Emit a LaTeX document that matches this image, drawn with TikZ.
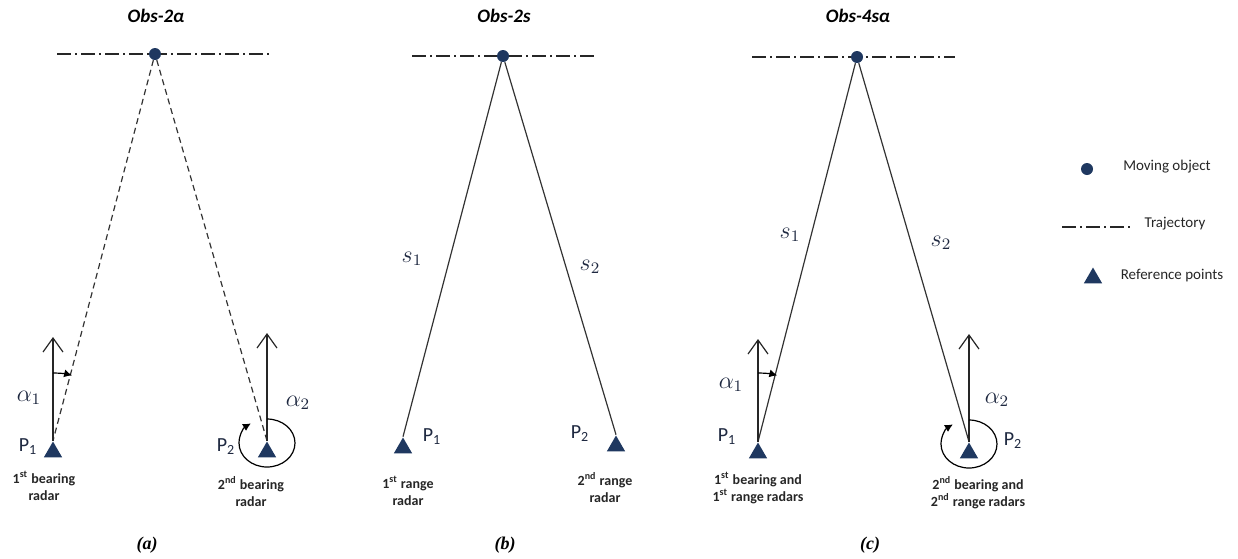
\documentclass[tikz,border=0pt]{standalone}
\usepackage{fontspec}
\setmainfont{Carlito}
\newfontfamily\capfont{Liberation Serif}
\usetikzlibrary{arrows.meta,shapes.geometric,calc}
\definecolor{objblue}{RGB}{31,56,96}
\definecolor{labcol}{RGB}{30,40,64}

\begin{document}
\begin{tikzpicture}[x=0.5pt,y=0.5pt,
    obj/.style={circle, fill=objblue, inner sep=0pt, minimum size=6pt},
    refpt/.style={regular polygon, regular polygon sides=3, fill=objblue, inner sep=0pt, minimum size=10.5pt},
    traj/.style={line width=0.55pt, black!85, dash pattern=on 7pt off 2pt on 1pt off 2pt},
    ray/.style={line width=0.6pt, black!80},
    uparr/.style={line width=0.6pt, black!85, -{Straight Barb[length=7pt,width=10pt]}},
    angarr/.style={line width=0.6pt, black, -{Latex[length=4pt,width=4pt]}},
    ttl/.style={font=\fontsize{9.5}{11}\selectfont\bfseries\itshape},
    lab/.style={font=\fontsize{10}{11}\selectfont, text=labcol},
    mlab/.style={font=\fontsize{12}{13}\selectfont, text=labcol},
    note/.style={font=\fontsize{7}{8.5}\selectfont\bfseries, align=center, text=black!85},
    leg/.style={font=\fontsize{7.5}{9}\selectfont, text=black!85},
    subcap/.style={font=\capfont\fontsize{9}{10}\selectfont\bfseries\itshape},
  ]
  \useasboundingbox (0,0) rectangle (1238,-558);

  % (a) two bearings
  \coordinate (trA1) at (57,-54);
  \coordinate (trA2) at (272,-54);
  \draw[traj] (trA1) -- (trA2);
  \node[ttl] (ttlA) at (156,-16) {Obs-2α};
  \node[obj] (objA) at (155,-54) {};
  \node[refpt] (p1A) at (53,-452) {};
  \node[refpt] (p2A) at (267,-452) {};
  \coordinate (upA1) at (53,-337);
  \coordinate (upA2) at (267,-333);
  \draw[ray, dash pattern=on 3pt off 2pt] (objA) -- (p1A.north);
  \draw[ray, dash pattern=on 3pt off 2pt] (objA) -- (p2A.north);
  \draw[uparr] (p1A.north) -- (upA1);
  \draw[uparr] (p2A.north) -- (upA2);
  \draw[angarr] ([yshift=39.5pt]p1A.center) arc[start angle=90, end angle=76, radius=39.5pt];
  \draw[angarr] ([yshift=16.5pt]p2A.center) arc[start angle=90, end angle=-235, x radius=14pt, y radius=12pt];
  \node[mlab] (a1A) at (29,-398) {$\alpha_1$};
  \node[mlab] (a2A) at (298,-403) {$\alpha_2$};
  \node[lab] (P1A) at (28,-447) {P\textsubscript{1}};
  \node[lab] (P2A) at (226,-447) {P\textsubscript{2}};
  \node[note] (txt1A) at (44,-486) {1\textsuperscript{st} bearing\\radar};
  \node[note] (txt2A) at (251,-492) {2\textsuperscript{nd} bearing\\radar};
  \node[subcap] (capA) at (147,-545) {(a)};

  % (b) two ranges
  \coordinate (trB1) at (412,-56);
  \coordinate (trB2) at (596,-56);
  \draw[traj] (trB1) -- (trB2);
  \node[ttl] (ttlB) at (504,-16) {Obs-2s};
  \node[obj] (objB) at (503,-56) {};
  \node[refpt] (p1B) at (403,-448) {};
  \node[refpt] (p2B) at (616,-446) {};
  \draw[ray] (objB) -- (p1B.north);
  \draw[ray] (objB) -- (p2B.north);
  \node[mlab] (s1B) at (412,-259) {$s_1$};
  \node[mlab] (s2B) at (590,-267) {$s_2$};
  \node[lab] (P1B) at (432,-437) {P\textsubscript{1}};
  \node[lab] (P2B) at (580,-434) {P\textsubscript{2}};
  \node[note] (txt1B) at (408,-491) {1\textsuperscript{st} range\\radar};
  \node[note] (txt2B) at (605,-488) {2\textsuperscript{nd} range\\radar};
  \node[subcap] (capB) at (505,-545) {(b)};

  % (c) bearings and ranges
  \coordinate (trC1) at (752,-57);
  \coordinate (trC2) at (955,-57);
  \draw[traj] (trC1) -- (trC2);
  \node[ttl] (ttlC) at (858,-16) {Obs-4sα};
  \node[obj] (objC) at (857,-57) {};
  \node[refpt] (p1C) at (758,-453) {};
  \node[refpt] (p2C) at (969,-453) {};
  \coordinate (upC1) at (758,-339);
  \coordinate (upC2) at (969,-334);
  \draw[ray] (objC) -- (p1C.north);
  \draw[ray] (objC) -- (p2C.north);
  \draw[uparr] (p1C.north) -- (upC1);
  \draw[uparr] (p2C.north) -- (upC2);
  \draw[angarr] ([yshift=40pt]p1C.center) arc[start angle=90, end angle=76, radius=40pt];
  \draw[angarr] ([yshift=16.5pt]p2C.center) arc[start angle=90, end angle=-235, x radius=14pt, y radius=12pt];
  \node[mlab] (s1C) at (790,-235) {$s_1$};
  \node[mlab] (s2C) at (941,-243) {$s_2$};
  \node[mlab] (a1C) at (731,-385) {$\alpha_1$};
  \node[mlab] (a2C) at (997,-400) {$\alpha_2$};
  \node[lab] (P1C) at (727,-437) {P\textsubscript{1}};
  \node[lab] (P2C) at (1013,-441) {P\textsubscript{2}};
  \node[note] (txt1C) at (758,-488) {1\textsuperscript{st} bearing and\\1\textsuperscript{st} range radars};
  \node[note] (txt2C) at (978,-493) {2\textsuperscript{nd} bearing and\\2\textsuperscript{nd} range radars};
  \node[subcap] (capC) at (870,-545) {(c)};

  % legend
  \node[obj] (legobj) at (1087,-169) {};
  \node[leg] (legobjt) at (1167,-167) {Moving object};
  \coordinate (legtr1) at (1062,-227);
  \coordinate (legtr2) at (1132,-227);
  \draw[traj] (legtr1) -- (legtr2);
  \node[leg] (legtrt) at (1175,-224) {Trajectory};
  \node[refpt] (legref) at (1093,-278) {};
  \node[leg] (legreft) at (1172,-276) {Reference points};
\end{tikzpicture}
\end{document}
